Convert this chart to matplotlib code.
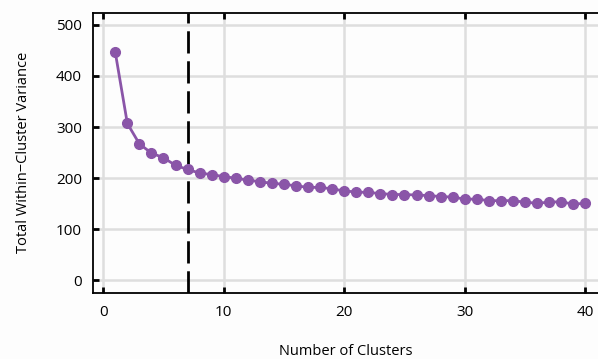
import matplotlib
matplotlib.use("Agg")
import matplotlib.pyplot as plt

# elbow plot data
clusters = list(range(1, 41))
variance = [446, 307, 267, 249, 240, 225, 217, 210, 207, 203,
            200, 196, 193, 190, 188, 185, 182, 182, 179, 175,
            173, 172, 170, 168, 168, 167, 166, 164, 163, 159,
            159, 156, 156, 156, 153, 151, 153, 154, 149, 151]
chosen_k = 7

purple = "#8a55a8"
plt.rcParams['font.family'] = ['Open Sans', 'DejaVu Sans']

fig = plt.figure(figsize=(5.98, 3.59), dpi=100)
fig.patch.set_facecolor("#fdfdfd")
ax = fig.add_axes([93 / 598, 66.3 / 359, 505 / 598, 279.7 / 359])
ax.set_facecolor("#fdfdfd")

ax.grid(True, color="#dedede", linewidth=1.8, zorder=0)
ax.set_axisbelow(True)

ax.axvline(chosen_k, color="black", linewidth=2, linestyle=(0, (8, 2.8)), zorder=2)
ax.plot(clusters, variance, color=purple, linewidth=2, marker="o",
        markersize=7, zorder=3)

ax.set_xlim(-0.85, 41.06)
ax.set_ylim(-24, 523)
ax.set_xticks([0, 10, 20, 30, 40])
ax.set_yticks([0, 100, 200, 300, 400, 500])

ax.spines['right'].set_visible(False)
for s in ['left', 'bottom', 'top']:
    ax.spines[s].set_linewidth(1.3)
ax.tick_params(axis='x', direction='in', top=True, length=4, width=2,
               labelsize=11, pad=9)
ax.tick_params(axis='y', direction='in', length=4, width=2,
               labelsize=11, pad=8)

ax.set_xlabel("Number of Clusters", fontsize=10.5, labelpad=17)
ax.set_ylabel("Total Within\u2212Cluster Variance", fontsize=10.5, labelpad=18)

fig.savefig("out.png", dpi=100, facecolor=fig.get_facecolor())
